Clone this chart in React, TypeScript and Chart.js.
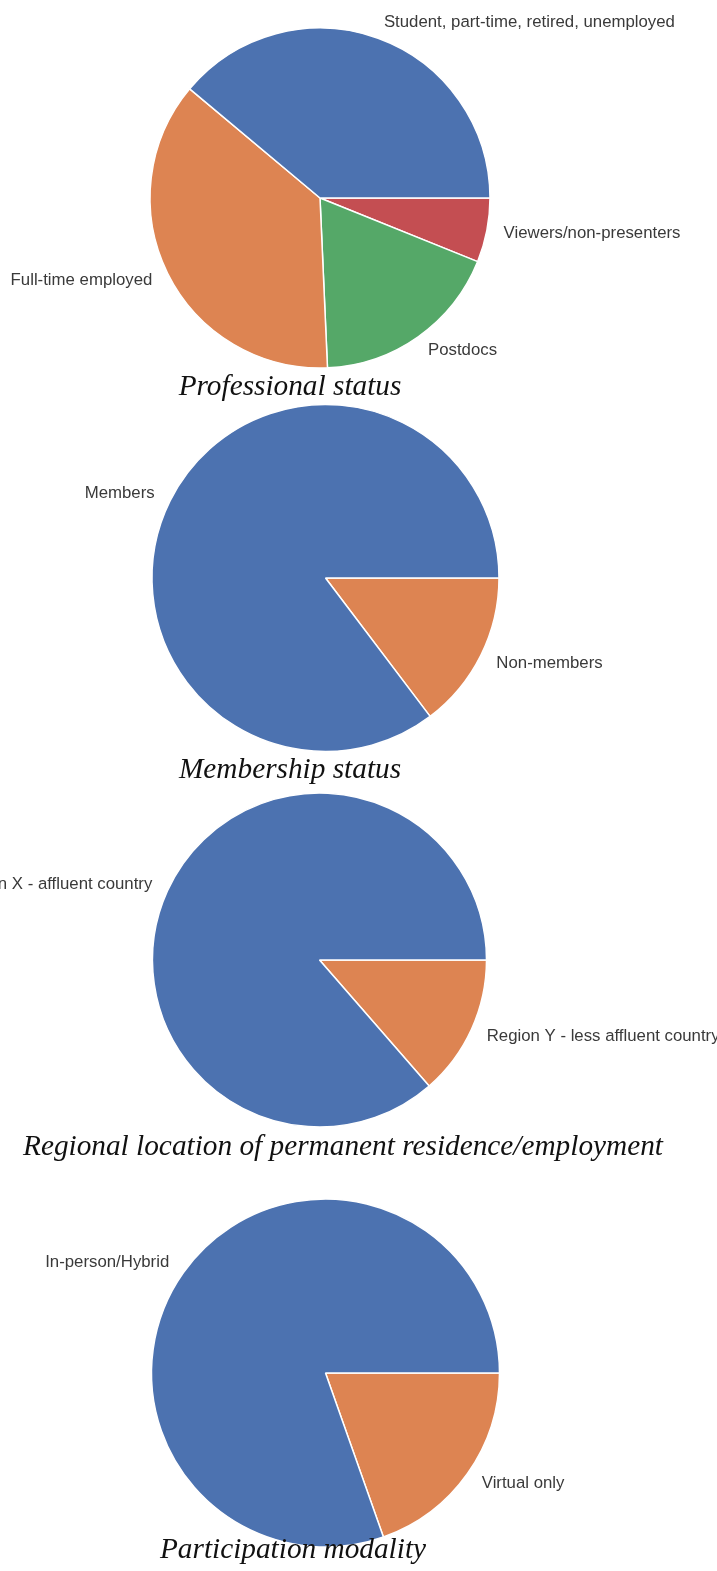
import React, { useEffect, useRef } from "react";
import { Chart, registerables } from "chart.js";
Chart.register(...registerables);

const W = 717;
const H = 1571;

// Data (in matplotlib's counter-clockwise order starting at 3 o'clock)
const professionalLabels = [
  "Student, part-time, retired, unemployed",
  "Full-time employed",
  "Postdocs",
  "Viewers/non-presenters",
];
const professionalValues = [38.9, 36.8, 18.2, 6.1];

const membershipLabels = ["Members", "Non-members"];
const membershipValues = [85.3, 14.7];

const regionLabels = ["Region X - affluent country", "Region Y - less affluent country"];
const regionValues = [86.4, 13.6];

const modalityLabels = ["In-person/Hybrid", "Virtual only"];
const modalityValues = [80.4, 19.6];

const palette = ["#4C72B0", "#DD8452", "#55A868", "#C44E52"];

const pies = [
  { labels: professionalLabels, values: professionalValues, title: "Professional status", cx: 320, cy: 198, r: 170, titleX: 290, titleY: 395 },
  { labels: membershipLabels, values: membershipValues, title: "Membership status", cx: 325.5, cy: 578, r: 173.5, titleX: 290, titleY: 778 },
  { labels: regionLabels, values: regionValues, title: "Regional location of permanent residence/employment", cx: 319.5, cy: 960, r: 167, titleX: 343, titleY: 1155 },
  { labels: modalityLabels, values: modalityValues, title: "Participation modality", cx: 325.5, cy: 1373, r: 174, titleX: 293, titleY: 1558 },
];

const pieTextPlugin = {
  id: "pieText",
  afterDatasetsDraw(chart: any, _args: any, opts: any) {
    const ctx = chart.ctx;
    const meta = chart.getDatasetMeta(0);
    const labels = chart.data.labels as string[];
    ctx.save();
    ctx.font = '16.8px "Liberation Sans", Arial, sans-serif';
    ctx.fillStyle = "#3a3a3a";
    ctx.textBaseline = "middle";
    meta.data.forEach((arc: any, i: number) => {
      const p = arc.getProps(["x", "y", "startAngle", "endAngle", "outerRadius"], true);
      const mid = (p.startAngle + p.endAngle) / 2;
      const d = p.outerRadius * 1.1;
      const lx = p.x + Math.cos(mid) * d;
      const ly = p.y + Math.sin(mid) * d;
      ctx.textAlign = Math.cos(mid) >= 0 ? "left" : "right";
      ctx.fillText(labels[i], lx, ly);
    });
    ctx.font = 'italic 29.3px "Liberation Serif", "Times New Roman", serif';
    ctx.fillStyle = "#111111";
    ctx.textAlign = "center";
    ctx.textBaseline = "alphabetic";
    ctx.fillText(opts.text, opts.x, opts.y);
    ctx.restore();
  },
};

function PieCanvas({ cfg }: { cfg: (typeof pies)[number] }) {
  const ref = useRef<HTMLCanvasElement>(null);
  useEffect(() => {
    if (!ref.current) return;
    const colors = palette.slice(0, cfg.values.length);
    // Chart.js draws clockwise; reverse so slices run counter-clockwise from 3 o'clock
    const labels = [...cfg.labels].reverse();
    const values = [...cfg.values].reverse();
    const bg = [...colors].reverse();
    const m = 4;
    const chart = new Chart(ref.current, {
      type: "pie",
      data: {
        labels,
        datasets: [
          {
            data: values,
            backgroundColor: bg,
            borderColor: "#ffffff",
            borderWidth: 1.5,
          },
        ],
      },
      options: {
        responsive: false,
        maintainAspectRatio: false,
        animation: false,
        events: [],
        rotation: 90,
        radius: cfg.r,
        layout: {
          padding: {
            left: cfg.cx - cfg.r - m,
            right: W - cfg.cx - cfg.r - m,
            top: cfg.cy - cfg.r - m,
            bottom: H - cfg.cy - cfg.r - m,
          },
        },
        plugins: {
          legend: { display: false },
          tooltip: { enabled: false },
          title: { display: false },
          pieText: { text: cfg.title, x: cfg.titleX, y: cfg.titleY },
        } as any,
      } as any,
      plugins: [pieTextPlugin as any],
    });
    return () => chart.destroy();
  }, [cfg]);
  return (
    <canvas
      ref={ref}
      width={W}
      height={H}
      style={{ position: "absolute", left: 0, top: 0, width: W, height: H, display: "block" }}
    />
  );
}

export default function App() {
  return (
    <div style={{ position: "absolute", left: 0, top: 0, width: W, height: H, background: "#ffffff", overflow: "hidden" }}>
      {pies.map((p, i) => (
        <PieCanvas key={i} cfg={p} />
      ))}
    </div>
  );
}
